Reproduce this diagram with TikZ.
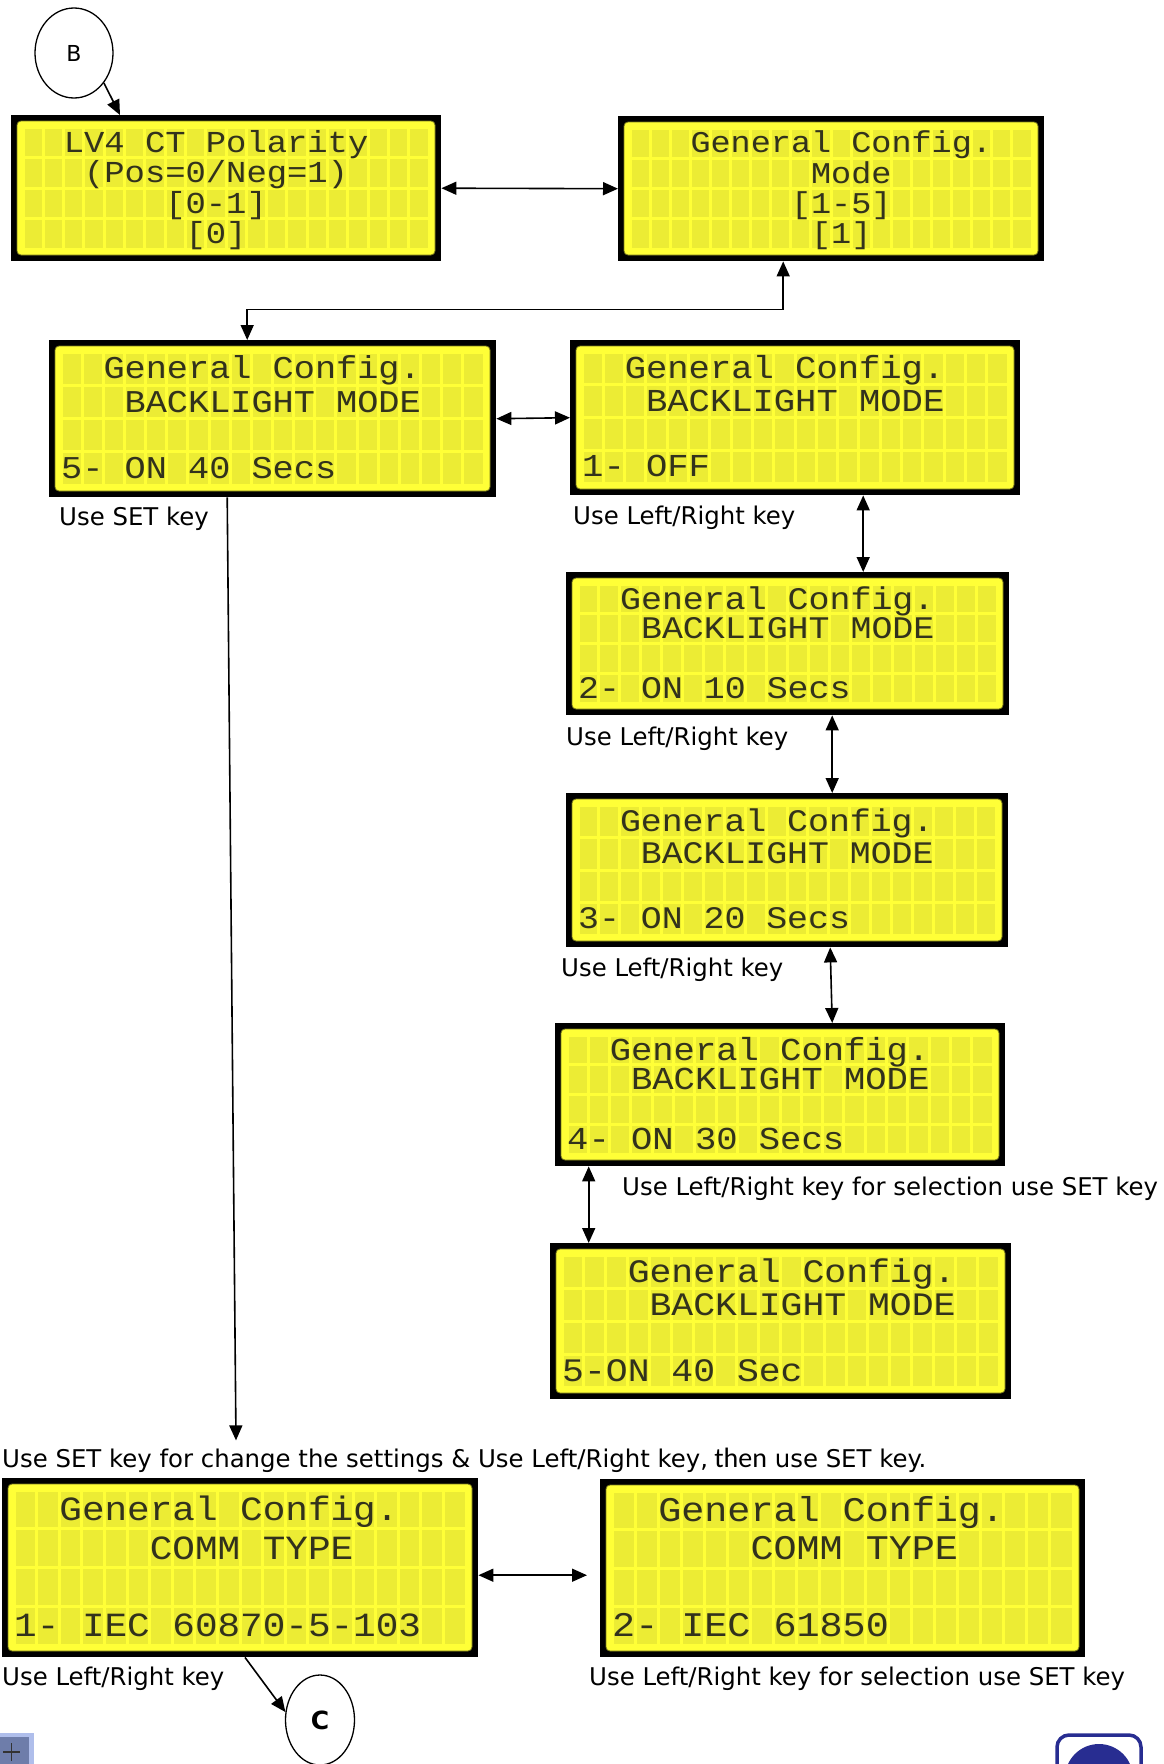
\documentclass[tikz,border=0pt]{standalone}
\usepackage{fontspec}
\setmainfont{DejaVu Sans}
\newfontfamily\lcdfont{Liberation Mono}
\newfontfamily\calfont{Carlito}
\usetikzlibrary{arrows.meta, positioning, shapes.geometric, calc}
\definecolor{lcdyellow}{RGB}{255,255,55}
\definecolor{lcdcell}{RGB}{236,236,52}
\definecolor{lcdedge}{RGB}{120,120,30}
\definecolor{lcdink}{RGB}{50,50,28}
\definecolor{logoblue}{RGB}{40,45,145}
\definecolor{tabframe}{RGB}{175,190,235}
\definecolor{tabfill}{RGB}{110,125,170}

\tikzset{
  lcdframe/.style={rectangle, fill=black, inner sep=0pt},
  lcdrow/.style={inner sep=0pt, text=lcdink},
  ring/.style={ellipse, draw, line width=1.3pt, inner sep=0pt},
  note/.style={anchor=base west, inner sep=0pt, font=\fontsize{24.4}{28}\selectfont},
  arr/.style={-{Triangle[length=15pt,width=13pt]}, line width=1.6pt},
  twoway/.style={{Triangle[length=15pt,width=13pt]}-{Triangle[length=15pt,width=13pt]}, line width=1.6pt},
}

% LCD panel: name, left, top, width, height, rows as row/col/text
\newcommand{\lcd}[6]{%
  \node[lcdframe, minimum width=#4pt, minimum height=#5pt, anchor=north west] (#1) at (#2,#3) {};
  \fill[lcdyellow, draw=lcdedge, line width=0.8pt, rounded corners=4pt]
    (#2+6,#3+6) rectangle (#2+#4-6,#3+#5-6);
  \pgfmathsetmacro\cw{(#4-24)/20}
  \pgfmathsetmacro\rh{(#5-24)/4}
  \pgfmathsetmacro\fs{\cw/0.6}
  \foreach \cl in {0,...,19}
    \foreach \rw in {0,...,3}
      \fill[lcdcell] (#2+12+\cl*\cw+1.5,#3+12+\rw*\rh+1.5) rectangle ++(\cw-3,\rh-3);
  \foreach \rw/\cl/\tx in {#6}
    \node[lcdrow, anchor=base west, font=\fontsize{\fs}{\fs}\lcdfont]
      (#1-\rw) at (#2+12+\cl*\cw,#3+12+\rw*\rh-0.5*\rh+0.29*\fs) {\scalebox{1}[0.9]{\tx}};
}

\begin{document}
\begin{tikzpicture}[x=1pt, y=-1pt]
  \useasboundingbox (0,0) rectangle (1164,1764);

  % entry marker
  \node[ring, minimum width=78pt, minimum height=90pt, font=\fontsize{22}{24}\selectfont] (b) at (74,53) {B};

  % top row
  \lcd{lv4}{11}{115}{430}{146}{1/2/LV4 CT Polarity,2/3/{(Pos=0/Neg=1)},3/7/[0-1],4/8/[0]}
  \lcd{mode}{618}{116}{426}{145}{1/3/General Config.,2/9/Mode,3/8/[1-5],4/9/[1]}

  % backlight mode screens
  \lcd{bl5}{49}{340}{447}{157}{1/2/General Config.,2/3/BACKLIGHT MODE,4/0/5- ON 40 Secs}
  \lcd{bl1}{570}{340}{450}{155}{1/2/General Config.,2/3/BACKLIGHT MODE,4/0/1- OFF}
  \lcd{bl2}{566}{572}{443}{143}{1/2/General Config.,2/3/BACKLIGHT MODE,4/0/2- ON 10 Secs}
  \lcd{bl3}{566}{793}{442}{154}{1/2/General Config.,2/3/BACKLIGHT MODE,4/0/3- ON 20 Secs}
  \lcd{bl4}{555}{1023}{450}{143}{1/2/General Config.,2/3/BACKLIGHT MODE,4/0/4- ON 30 Secs}
  \lcd{bl5b}{550}{1243}{461}{156}{1/3/General Config.,2/4/BACKLIGHT MODE,4/0/5-ON 40 Sec}

  % comm type screens
  \lcd{ct1}{2}{1478}{476}{179}{1/2/General Config.,2/6/COMM TYPE,4/0/1- IEC 60870-5-103}
  \lcd{ct2}{600}{1479}{485}{178}{1/2/General Config.,2/6/COMM TYPE,4/0/2- IEC 61850}

  % key hints
  \node[note] (hset) at (59,525) {Use SET key};
  \node[note] (hlr1) at (573,524) {Use Left/Right key};
  \node[note] (hlr2) at (566,745) {Use Left/Right key};
  \node[note] (hlr3) at (561,976) {Use Left/Right key};
  \node[note] (hsel1) at (622,1195) {Use Left/Right key for selection use SET key};
  \node[note] (hmain) at (2,1467) {Use SET key for change the settings \& Use Left/Right key,{\calfont\fontsize{28}{30}\selectfont{} then} use SET key.};
  \node[note] (hlr4) at (2,1685) {Use Left/Right key};
  \node[note] (hsel2) at (589,1685) {Use Left/Right key for selection use SET key};

  % exit marker
  \node[ring, minimum width=69pt, minimum height=90pt, font=\fontsize{25}{27}\selectfont\bfseries] (c) at (320,1720) {C};

  % connectors
  \draw[arr] (b.-45) -- ([xshift=109pt]lv4.north west);
  \draw[twoway] (lv4.east) -- (mode.west);
  \draw[twoway] ([xshift=-48pt]mode.south) -- ++(0,48) -| ([xshift=-25.5pt]bl5.north);
  \draw[twoway] (bl5.east) -- (bl1.west);
  \draw[arr] ([xshift=-45.5pt]bl5.south) -- ([xshift=234pt,yshift=7pt]hmain.north west);
  \draw[twoway] ([xshift=68pt]bl1.south) -- ([xshift=75.5pt]bl2.north);
  \draw[twoway] ([xshift=44.5pt]bl2.south) -- ([xshift=45pt]bl3.north);
  \draw[twoway] ([xshift=43pt]bl3.south) -- ([xshift=52pt]bl4.north);
  \draw[twoway] ([xshift=-191.5pt]bl4.south) -- ([xshift=-192pt]bl5b.north);
  \draw[twoway, shorten >=13pt] ([yshift=-7.5pt]ct1.east) -- ([yshift=-7pt]ct2.west);
  \draw[arr] ([xshift=243pt]ct1.south west) -- (c.167);

  % window corner leftovers
  \fill[tabframe] (0,1733) rectangle (34,1764);
  \fill[tabfill] (0,1737) rectangle (29,1764);
  \draw[line width=1.2pt, black!80] (3,1752) -- (20,1752) (11.5,1743) -- (11.5,1761);
  \draw[logoblue, line width=3.5pt, rounded corners=12pt] (1057,1735) rectangle (1141,1810);
  \fill[logoblue] (1099,1778) circle (34);
\end{tikzpicture}
\end{document}
